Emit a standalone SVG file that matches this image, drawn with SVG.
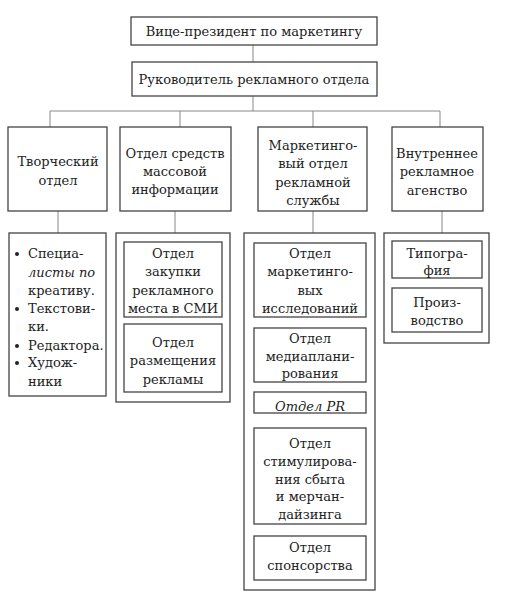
<svg xmlns="http://www.w3.org/2000/svg" width="510" height="598" viewBox="0 0 510 598">
<style>
.b{fill:none;stroke:#444;stroke-width:1.3}
.c{fill:none;stroke:#888;stroke-width:1}
.m{text-anchor:middle}
.i{font-style:italic}
</style>
<rect width="510" height="598" fill="#fff"/>
<g id="connectors">
<line class="c" x1="253" y1="45" x2="253" y2="62"/>
<line class="c" x1="253" y1="96" x2="253" y2="111"/>
<line class="c" x1="50" y1="111" x2="440" y2="111"/>
<line class="c" x1="50" y1="111" x2="50" y2="127"/>
<line class="c" x1="180" y1="111" x2="180" y2="127"/>
<line class="c" x1="313" y1="111" x2="313" y2="127"/>
<line class="c" x1="440" y1="111" x2="440" y2="127"/>
<line class="c" x1="58" y1="211" x2="58" y2="233"/>
<line class="c" x1="175" y1="211" x2="175" y2="233"/>
<line class="c" x1="313" y1="211" x2="313" y2="233"/>
<line class="c" x1="442" y1="211" x2="442" y2="233"/>
</g>
<g font-family="DejaVu Serif, Liberation Serif, serif" font-size="13" fill="#222">
<g id="vp">
<rect class="b" x="131" y="17" width="246" height="28"/>
<text class="m" x="254" y="36">Вице-президент по маркетингу</text>
</g>
<g id="head">
<rect class="b" x="132" y="62" width="245" height="34"/>
<text class="m" x="254" y="84">Руководитель рекламного отдела</text>
</g>
<g id="creative">
<rect class="b" x="8" y="127" width="99" height="84"/>
<text class="m" x="58" y="166">Творческий</text>
<text class="m" x="58" y="185">отдел</text>
</g>
<g id="media">
<rect class="b" x="120" y="127" width="111" height="84"/>
<text class="m" x="175" y="158">Отдел средств</text>
<text class="m" x="175" y="176">массовой</text>
<text class="m" x="175" y="194">информации</text>
</g>
<g id="marketing">
<rect class="b" x="258" y="127" width="109" height="84"/>
<text class="m" x="313" y="150">Маркетинго-</text>
<text class="m" x="313" y="168">вый отдел</text>
<text class="m" x="313" y="187">рекламной</text>
<text class="m" x="313" y="205">службы</text>
</g>
<g id="agency">
<rect class="b" x="392" y="127" width="91" height="84"/>
<text class="m" x="437" y="158">Внутреннее</text>
<text class="m" x="437" y="176">рекламное</text>
<text class="m" x="437" y="195">агенство</text>
</g>
<g id="creative-list">
<rect class="b" x="9" y="233" width="97" height="163"/>
<circle cx="17" cy="254" r="2" fill="#222"/>
<circle cx="17" cy="309" r="2" fill="#222"/>
<circle cx="17" cy="346" r="2" fill="#222"/>
<circle cx="17" cy="363" r="2" fill="#222"/>
<text x="28" y="258">Специа-</text>
<text class="i" x="28" y="277">листы по</text>
<text x="28" y="295">креативу.</text>
<text x="28" y="313">Текстови-</text>
<text x="28" y="331">ки.</text>
<text x="28" y="350">Редактора.</text>
<text x="28" y="367">Худож-</text>
<text x="28" y="386">ники</text>
</g>
<g id="media-sub">
<rect class="b" x="116" y="233" width="114" height="169"/>
<g id="media-buy">
<rect class="b" x="124" y="242" width="98" height="75"/>
<text class="m" x="173" y="258">Отдел</text>
<text class="m" x="173" y="276">закупки</text>
<text class="m" x="173" y="295">рекламного</text>
<text class="m" x="173" y="313">места в СМИ</text>
</g>
<g id="media-place">
<rect class="b" x="124" y="324" width="98" height="68"/>
<text class="m" x="173" y="347">Отдел</text>
<text class="m" x="173" y="365">размещения</text>
<text class="m" x="173" y="384">рекламы</text>
</g>
</g>
<g id="marketing-sub">
<rect class="b" x="244" y="233" width="131" height="357"/>
<g id="research">
<rect class="b" x="254" y="243" width="112" height="74"/>
<text class="m" x="310" y="258">Отдел</text>
<text class="m" x="310" y="276">маркетинго-</text>
<text class="m" x="310" y="295">вых</text>
<text class="m" x="310" y="313">исследований</text>
</g>
<g id="mediaplan">
<rect class="b" x="254" y="328" width="112" height="54"/>
<text class="m" x="310" y="343">Отдел</text>
<text class="m" x="310" y="361">медиаплани-</text>
<text class="m" x="310" y="378">рования</text>
</g>
<g id="pr">
<rect class="b" x="254" y="392" width="112" height="21"/>
<text class="m i" x="310" y="411">Отдел PR</text>
</g>
<g id="promo">
<rect class="b" x="254" y="428" width="112" height="96"/>
<text class="m" x="310" y="448">Отдел</text>
<text class="m" x="310" y="466">стимулирова-</text>
<text class="m" x="310" y="484">ния сбыта</text>
<text class="m" x="310" y="501">и мерчан-</text>
<text class="m" x="310" y="519">дайзинга</text>
</g>
<g id="sponsor">
<rect class="b" x="254" y="536" width="112" height="44"/>
<text class="m" x="310" y="552">Отдел</text>
<text class="m" x="310" y="570">спонсорства</text>
</g>
</g>
<g id="agency-sub">
<rect class="b" x="384" y="233" width="105" height="110"/>
<g id="print">
<rect class="b" x="392" y="241" width="90" height="37"/>
<text class="m" x="437" y="258">Типогра-</text>
<text class="m" x="437" y="275">фия</text>
</g>
<g id="prod">
<rect class="b" x="392" y="288" width="90" height="44"/>
<text class="m" x="437" y="307">Произ-</text>
<text class="m" x="437" y="325">водство</text>
</g>
</g>
</g>
</svg>
